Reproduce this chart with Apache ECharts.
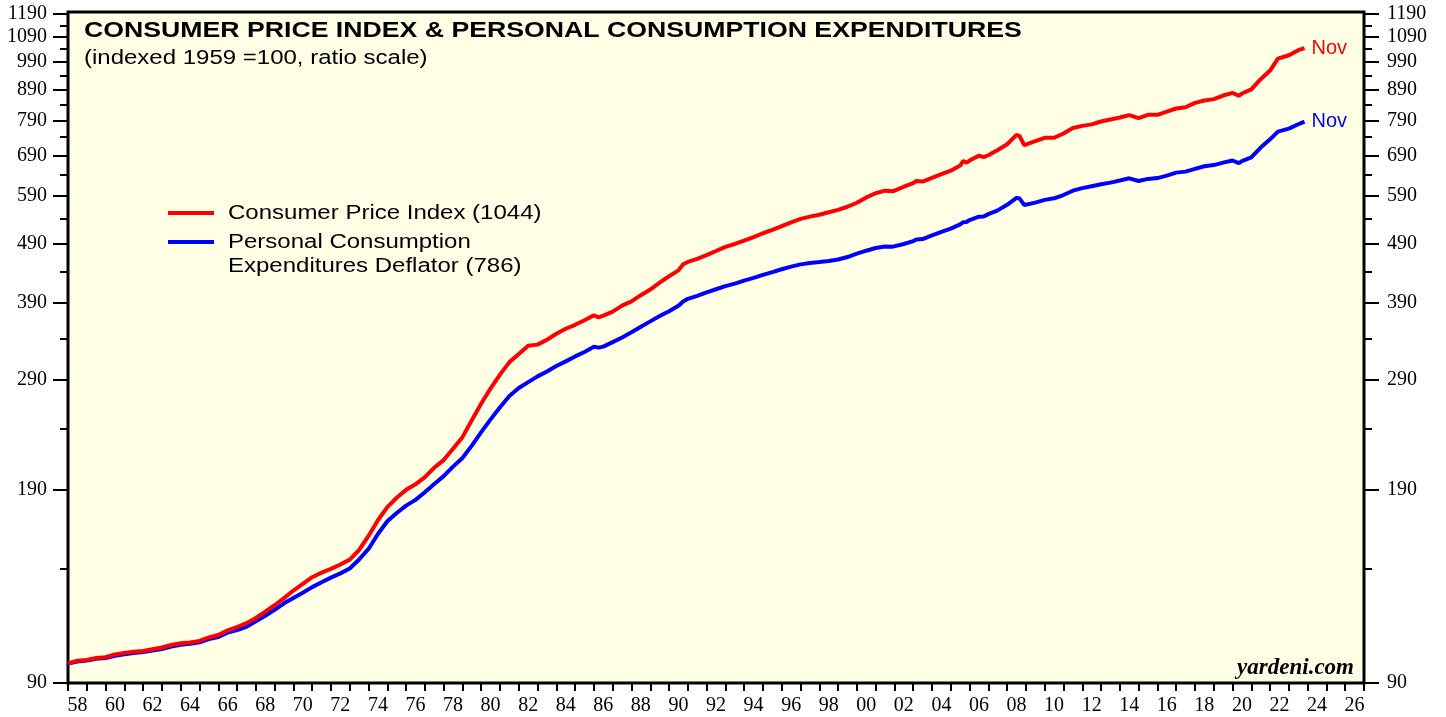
<!DOCTYPE html>
<html>
<head>
<meta charset="utf-8">
<script src="https://cdn.jsdelivr.net/npm/echarts@6/dist/echarts.min.js"></script>
<style>
html,body{margin:0;padding:0;background:#ffffff;}
#chart{width:1446px;height:717px;}
</style>
</head>
<body>
<div id="chart"></div>
<script>
// ---------------- DATA ----------------
const dates = [
  '1958-01','1958-07','1959-01','1959-07','1960-01','1960-07','1961-01','1961-07','1962-01','1962-07',
  '1963-01','1963-07','1964-01','1964-07','1965-01','1965-07','1966-01','1966-07','1967-01','1967-07',
  '1968-01','1968-07','1969-01','1969-07','1970-01','1970-07','1971-01','1971-07','1972-01','1972-07',
  '1973-01','1973-07','1974-01','1974-07','1975-01','1975-07','1976-01','1976-07','1977-01','1977-07',
  '1978-01','1978-07','1979-01','1979-07','1980-01','1980-07','1981-01','1981-07','1982-01','1982-07',
  '1983-01','1983-07','1984-01','1984-07','1985-01','1985-07','1986-01','1986-04','1986-07','1987-01',
  '1987-07','1988-01','1988-07','1989-01','1989-07','1990-01','1990-07','1990-10','1991-01','1991-07',
  '1992-01','1992-07','1993-01','1993-07','1994-01','1994-07','1995-01','1995-07','1996-01','1996-07',
  '1997-01','1997-07','1998-01','1998-07','1999-01','1999-07','2000-01','2000-07','2001-01','2001-07',
  '2001-12','2002-01','2002-07','2003-01','2003-03','2003-07','2004-01','2004-07','2005-01','2005-07',
  '2005-09','2005-11','2006-01','2006-07','2006-10','2007-01','2007-07','2008-01','2008-07','2008-09',
  '2008-12','2009-01','2009-07','2010-01','2010-07','2011-01','2011-07','2012-01','2012-07','2013-01',
  '2013-07','2014-01','2014-07','2015-01','2015-07','2016-01','2016-07','2017-01','2017-07','2018-01',
  '2018-07','2019-01','2019-07','2020-01','2020-05','2020-07','2021-01','2021-07','2022-01','2022-06',
  '2023-01','2023-07','2023-11'
];
const cpiValues = [
  97.1, 98.1, 98.4, 99.1, 99.4, 100.5, 101.1, 101.5, 101.8, 102.5,
  103.2, 104.2, 104.9, 105.2, 105.9, 107.3, 108.3, 110.3, 111.7, 113.4,
  115.7, 118.5, 121.5, 124.9, 128.6, 132.0, 135.4, 137.8, 139.8, 142.2,
  144.9, 150.4, 158.8, 168.7, 177.5, 184.0, 189.7, 193.8, 199.2, 206.7,
  212.8, 222.3, 232.5, 248.1, 264.7, 280.7, 296.0, 310.6, 320.4, 330.9,
  332.3, 338.7, 346.5, 353.3, 358.7, 365.2, 372.0, 369.3, 371.6, 377.4,
  386.2, 392.7, 402.2, 411.0, 422.2, 432.7, 442.6, 453.1, 457.2, 462.6,
  469.4, 476.9, 484.7, 490.1, 496.5, 503.3, 510.8, 517.6, 525.1, 532.9,
  540.0, 544.7, 548.5, 553.9, 559.0, 565.8, 574.6, 586.5, 596.0, 602.1,
  600.5, 603.1, 611.3, 619.7, 625.2, 623.5, 632.3, 641.8, 650.3, 663.2,
  675.4, 670.6, 676.4, 689.3, 685.2, 690.3, 704.6, 720.2, 746.7, 742.9,
  717.5, 719.2, 728.7, 738.2, 738.5, 750.8, 766.7, 773.2, 777.6, 786.4,
  792.5, 798.6, 806.1, 796.6, 806.8, 806.8, 816.6, 826.8, 830.9, 844.8,
  852.6, 857.3, 869.2, 878.0, 868.5, 876.0, 889.9, 925.9, 957.1, 1002.3,
  1015.5, 1035.5, 1044.0
];
const pceValues = [
  97.0, 97.8, 98.2, 98.8, 99.1, 100.0, 100.6, 101.0, 101.4, 102.0,
  102.6, 103.6, 104.3, 104.7, 105.3, 106.6, 107.5, 109.3, 110.4, 111.8,
  114.2, 116.7, 119.4, 122.4, 125.0, 127.5, 130.3, 132.8, 135.2, 137.4,
  140.0, 145.0, 151.0, 160.0, 168.0, 173.5, 178.5, 182.5, 188.0, 194.0,
  200.0, 207.5, 214.5, 225.0, 237.0, 249.0, 261.0, 272.5, 281.0, 287.5,
  294.0, 299.5, 306.0, 311.5, 317.5, 323.0, 329.5, 328.5, 329.8, 335.5,
  341.5, 348.5, 356.0, 363.5, 371.0, 378.0, 386.0, 392.5, 396.5, 401.0,
  406.5, 411.5, 416.5, 420.5, 425.5, 430.0, 435.0, 439.5, 444.5, 449.0,
  453.0, 455.5, 457.0, 459.0, 461.5, 466.0, 472.0, 477.5, 482.5, 485.5,
  485.0, 485.5, 490.0, 495.5, 498.5, 499.5, 506.5, 513.5, 520.0, 528.5,
  533.0, 533.5, 537.5, 544.5, 545.0, 550.0, 558.0, 570.0, 585.5, 584.0,
  569.5, 570.5, 575.0, 581.0, 584.5, 592.0, 602.0, 608.0, 612.5, 617.0,
  621.0, 626.0, 631.5, 625.0, 630.0, 632.0, 638.0, 645.5, 648.0, 655.0,
  661.5, 664.5, 671.0, 676.5, 669.5, 675.0, 684.5, 711.0, 734.0, 756.0,
  765.0, 778.0, 786.0
];
const seriesNames = ['Consumer Price Index', 'Personal Consumption\nExpenditures Deflator'];
const seriesColors = ['#ff0000', '#0000ff'];
const lastMonthLabel = 'Nov';
const titleText = 'CONSUMER PRICE INDEX & PERSONAL CONSUMPTION EXPENDITURES';
const subtitleText = '(indexed 1959 =100, ratio scale)';
const sourceText = 'yardeni.com';
const yTickValues = [90, 190, 290, 390, 490, 590, 690, 790, 890, 990, 1090, 1190];
const yMinorTickValues = [140, 240, 340, 440, 540, 640, 740, 840, 940, 1040, 1140];
const xLabelYears = [1958,1960,1962,1964,1966,1968,1970,1972,1974,1976,1978,1980,1982,1984,1986,1988,1990,
  1992,1994,1996,1998,2000,2002,2004,2006,2008,2010,2012,2014,2016,2018,2020,2022,2024,2026];
const xMin = 1958, xMax = 2027;

// ---------------- BUILD ----------------
function decYear(s) { const p = s.split('-'); return +p[0] + (+p[1] - 1) / 12; }
const xTickYears = [];
for (let y = xMin; y <= xMax; y++) xTickYears.push(y);

const cpiData = dates.map((d, i) => [decYear(d), cpiValues[i]]);
const pceData = dates.map((d, i) => [decYear(d), pceValues[i]]);
const cpiLast = Math.round(cpiValues[cpiValues.length - 1]);
const pceLast = Math.round(pceValues[pceValues.length - 1]);

const serif = '"Liberation Serif", "Times New Roman", Times, serif';
const sans = '"Liberation Sans", Arial, Helvetica, sans-serif';

function yAxisDef(position, ticks, tickLen, showLabel, margin) {
  return {
    type: 'log', logBase: 10, min: 90, max: 1200, position: position,
    axisLine: { show: false },
    splitLine: { show: false },
    minorTick: { show: false },
    axisTick: { show: true, customValues: ticks, length: tickLen, lineStyle: { color: '#000', width: 2 } },
    axisLabel: {
      show: showLabel, customValues: ticks, margin: margin,
      formatter: v => String(Math.round(v)),
      fontFamily: serif, fontSize: 20, color: '#000'
    }
  };
}

const chart = echarts.init(document.getElementById('chart'), null, { renderer: 'canvas' });
chart.setOption({
  animation: false,
  backgroundColor: '#ffffff',
  grid: {
    left: 68, right: 82, top: 12, bottom: 34, show: true,
    backgroundColor: '#FFFFE5', borderColor: '#000', borderWidth: 3
  },
  xAxis: {
    type: 'value', min: xMin, max: xMax,
    axisLine: { show: false },
    splitLine: { show: false },
    axisTick: { show: true, customValues: xTickYears, length: 8, lineStyle: { color: '#000', width: 2 } },
    axisLabel: {
      customValues: xLabelYears.map(y => y + 0.5), margin: 13,
      formatter: v => String(Math.floor(v) % 100).padStart(2, '0'),
      fontFamily: serif, fontSize: 20, color: '#000'
    }
  },
  yAxis: [
    yAxisDef('left', yTickValues, 15, true, 21),
    yAxisDef('right', yTickValues, 15, true, 23),
    yAxisDef('left', yMinorTickValues, 8, false, 21),
    yAxisDef('right', yMinorTickValues, 8, false, 23)
  ],
  series: [
    {
      name: seriesNames[1], type: 'line', data: pceData, yAxisIndex: 0,
      showSymbol: false, symbol: 'none',
      lineStyle: { color: seriesColors[1], width: 4 },
      endLabel: { show: true, formatter: lastMonthLabel, color: seriesColors[1], fontFamily: sans, fontSize: 20, distance: 7 },
      z: 2
    },
    {
      name: seriesNames[0], type: 'line', data: cpiData, yAxisIndex: 0,
      showSymbol: false, symbol: 'none',
      lineStyle: { color: seriesColors[0], width: 4 },
      endLabel: { show: true, formatter: lastMonthLabel, color: seriesColors[0], fontFamily: sans, fontSize: 20, distance: 7 },
      z: 3
    }
  ],
  graphic: [
    { type: 'text', x: 84, y: 31, scaleX: 1.212, z: 10,
      style: { text: titleText, font: 'bold 22px ' + sans, fill: '#000', textAlign: 'left', textVerticalAlign: 'middle', align: 'left', verticalAlign: 'middle' } },
    { type: 'text', x: 84, y: 58, scaleX: 1.2, z: 10,
      style: { text: subtitleText, font: '20px ' + sans, fill: '#000', textAlign: 'left', textVerticalAlign: 'middle', align: 'left', verticalAlign: 'middle' } },
    { type: 'line', z: 10, shape: { x1: 168, y1: 213, x2: 214, y2: 213 }, style: { stroke: seriesColors[0], lineWidth: 4 } },
    { type: 'line', z: 10, shape: { x1: 168, y1: 242, x2: 214, y2: 242 }, style: { stroke: seriesColors[1], lineWidth: 4 } },
    { type: 'text', x: 228, y: 213, scaleX: 1.2, z: 10,
      style: { text: seriesNames[0] + ' (' + cpiLast + ')', font: '20px ' + sans, fill: '#000', textAlign: 'left', textVerticalAlign: 'middle', align: 'left', verticalAlign: 'middle' } },
    { type: 'text', x: 228, y: 230, scaleX: 1.2, z: 10,
      style: { text: seriesNames[1] + ' (' + pceLast + ')', font: '20px ' + sans, lineHeight: 24, fill: '#000', textAlign: 'left', textVerticalAlign: 'top', align: 'left', verticalAlign: 'top' } },
    { type: 'text', x: 1354, y: 668, z: 10,
      style: { text: sourceText, font: 'italic bold 23px ' + serif, fill: '#000', textAlign: 'right', textVerticalAlign: 'middle', align: 'right', verticalAlign: 'middle' } }
  ]
});
</script>
</body>
</html>
